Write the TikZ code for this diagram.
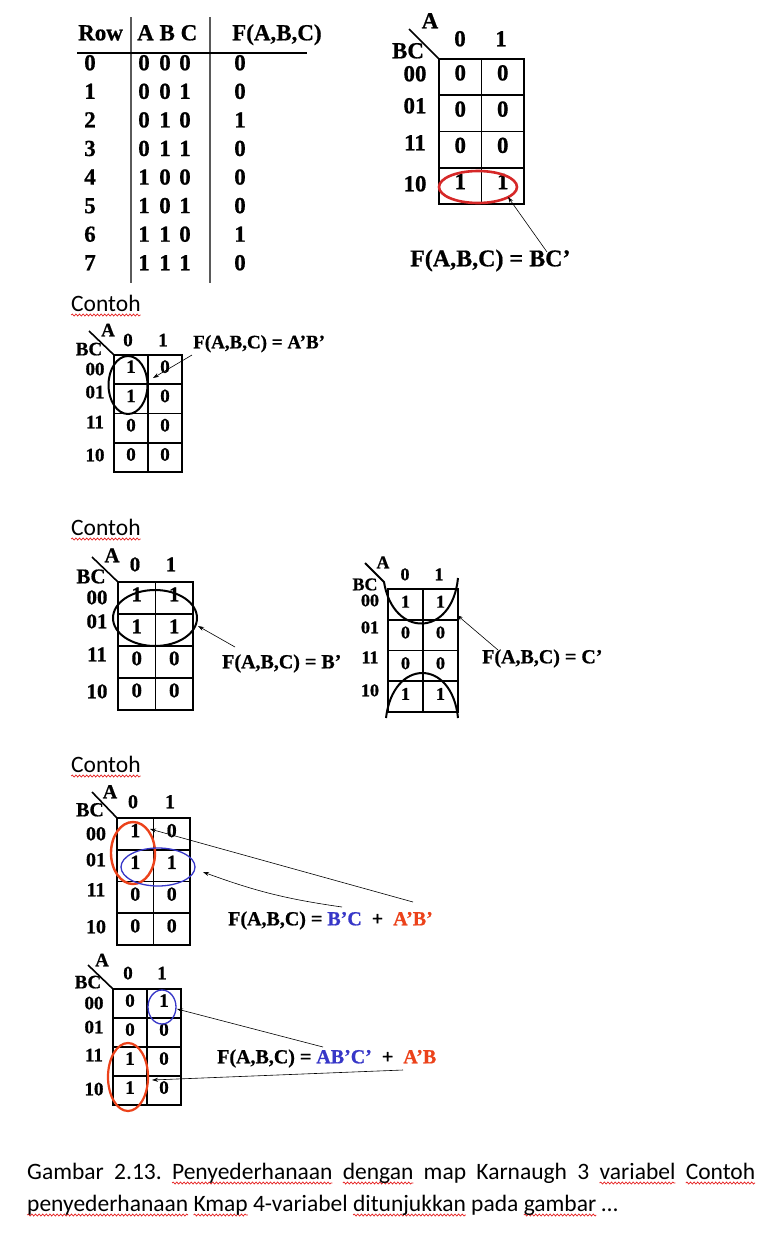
\documentclass[tikz,border=0pt]{standalone}
\usepackage{fontspec}
\setmainfont{Liberation Serif}[BoldFeatures={FakeBold=0.7}]
\newfontfamily\calib{Carlito}
\usetikzlibrary{arrows.meta,calc,decorations.pathmorphing}
\definecolor{kred}{RGB}{214,40,40}
\definecolor{ored}{RGB}{236,66,26}
\definecolor{kblue}{RGB}{55,55,200}
\definecolor{squig}{RGB}{230,30,30}
\definecolor{tline}{RGB}{90,90,90}
\newsavebox\errbox
\newlength\errw
\newcommand\spellerr[1]{\sbox\errbox{#1}\setlength\errw{\wd\errbox}\leavevmode\rlap{\tikz[baseline=0pt]{\path (0pt,0pt); \draw[overlay,squig,line width=0.7pt,decorate,decoration={snake,segment length=3.6pt,amplitude=1pt}] (0pt,-4pt) -- (\errw,-4pt);}}\usebox\errbox}
% K-map grid and values: #1 name, #2 left, #3 top, #4 cell width, #5 cell height, #6 values (row-major)
\newcommand\kmapgrid[6]{%
  \foreach \k in {0,...,4} \draw[kgrid] (#2,#3+\k*#5) -- (#2+2*#4,#3+\k*#5);
  \foreach \k in {0,1,2} \draw[kgrid] (#2+\k*#4,#3) -- (#2+\k*#4,#3+4*#5);
  \foreach \v [count=\i from 0] in {#6} {
    \pgfmathtruncatemacro\kr{\i/2}
    \pgfmathtruncatemacro\kc{mod(\i,2)}
    \node[txt] (#1v\kr\kc) at (#2+\kc*#4+0.5*#4, #3+\kr*#5+0.5*#5) {\v};
  }
}
\begin{document}
\frenchspacing
\begin{tikzpicture}[x=1pt,y=-1pt,
  txt/.style={inner sep=0pt, text height=0.66em, text depth=0pt},
  tt/.style={txt, font=\fontsize{23}{26}\selectfont\bfseries},
  kgrid/.style={line width=1.6pt, line cap=rect},
  diag/.style={line width=1.6pt},
  arr/.style={-{Stealth[length=6pt,width=4pt]}, line width=0.6pt},
  ring/.style={line width=2pt},
  contoh/.style={inner sep=0pt, anchor=base west, font=\calib\fontsize{23.5}{28}\selectfont},
  captxt/.style={inner sep=0pt, anchor=base west, font=\calib\fontsize{23.5}{28}\selectfont},
  f19/.style={font=\fontsize{19}{22}\selectfont\bfseries},
  f20/.style={font=\fontsize{20}{23}\selectfont\bfseries},
  f21/.style={font=\fontsize{21}{24}\selectfont\bfseries},
  f23/.style={font=\fontsize{23}{26}\selectfont\bfseries},
  f24/.style={font=\fontsize{24}{27}\selectfont\bfseries},
  f18/.style={font=\fontsize{18}{21}\selectfont\bfseries}]
\fill[white] (0,0) rectangle (775,1234);
\useasboundingbox (0,0) rectangle (775,1234);

% ---------------- truth table ----------------
\node[tt, anchor=west] (hrow) at (78,37) {Row};
\node[tt, anchor=west] (habc) at (137,37) {A B C};
\node[tt, anchor=west] (hf) at (232,37) {F(A,B,C)};
\draw[tline, line width=1.5pt] (131,17) -- (131,283);
\draw[tline, line width=1.5pt] (210,17) -- (210,283);
\draw[line width=1.3pt] (77,53) -- (307,53);
\foreach \r/\p/\q/\s/\f in {0/0/0/0/0,1/0/0/1/0,2/0/1/0/1,3/0/1/1/0,4/1/0/0/0,5/1/0/1/0,6/1/1/0/1,7/1/1/1/0} {
  \node[tt] (tr\r) at (90,67+\r*28.57) {\r};
  \node[tt] (ta\r) at (144,67+\r*28.57) {\p};
  \node[tt] (tb\r) at (165,67+\r*28.57) {\q};
  \node[tt] (tc\r) at (185,67+\r*28.57) {\s};
  \node[tt] (tf\r) at (240,67+\r*28.57) {\f};
}

% ---------------- K-map 1 ----------------
\begin{scope}[every node/.append style={f23}]
\kmapgrid{ka}{439}{59}{42.5}{36.25}{0,0,0,0,0,0,1,1}
\node[txt] (kah0) at (460,43) {0};
\node[txt] (kah1) at (501,43) {1};
\node[txt] (kaA) at (430,25) {A};
\node[txt] (kaBC) at (408,55) {BC};
\draw[diag] (409,29) -- (439,59);
\foreach \l/\yy in {00/78,01/110,11/147,10/188} \node[txt] (kar\l) at (415,\yy) {\l};
\end{scope}
\draw[kred, line width=2.6pt] (478,187) ellipse [x radius=39, y radius=16];
\node[txt, f24, anchor=west] (kaf) at (410,263) {F(A,B,C) = BC’};
\coordinate (kas) at (547,252);
\coordinate (kae) at (508,197);
\draw[arr] (kas) -- (kae);

% ---------------- K-map 2 ----------------
\node[contoh] (c1) at (71,311) {\spellerr{Contoh}};
\begin{scope}[every node/.append style={f19}]
\kmapgrid{kb}{114}{355}{34}{29.25}{1,0,1,0,0,0,0,0}
\node[txt] (kbh0) at (128,343) {0};
\node[txt] (kbh1) at (163,343) {1};
\node[txt] (kbA) at (108,333) {A};
\node[txt] (kbBC) at (89,352) {BC};
\draw[diag] (89,331) -- (114,355);
\foreach \l/\yy in {00/372,01/395,11/425,10/458} \node[txt] (kbr\l) at (95,\yy) {\l};
\end{scope}
\draw[ring] (128,385) ellipse [x radius=19.5, y radius=29];
\node[txt, f19, anchor=west] (kbf) at (193,345) {F(A,B,C) = A’B’};
\coordinate (kbs) at (192,355);
\coordinate (kbe) at (153,378);
\draw[arr] (kbs) -- (kbe);

% ---------------- K-map 3 ----------------
\node[contoh] (c2) at (71,535) {\spellerr{Contoh}};
\begin{scope}[every node/.append style={f21}]
\kmapgrid{kc}{118}{582}{37.5}{32}{1,1,1,1,0,0,0,0}
\node[txt] (kch0) at (135,568) {0};
\node[txt] (kch1) at (171,568) {1};
\node[txt] (kcA) at (112,559) {A};
\node[txt] (kcBC) at (91,580) {BC};
\draw[diag] (92,557) -- (118,582);
\foreach \l/\yy in {00/601,01/625,11/658,10/695} \node[txt] (kcr\l) at (97,\yy) {\l};
\end{scope}
\draw[ring] (155,618) ellipse [x radius=42, y radius=28];
\node[txt, f20, anchor=west] (kcf) at (222,665) {F(A,B,C) = B’};
\coordinate (kcs) at (235,647);
\coordinate (kce) at (198,626);
\draw[arr] (kcs) -- (kce);

% ---------------- K-map 4 ----------------
\begin{scope}[every node/.append style={f18}]
\kmapgrid{kd}{388}{589}{35}{30.75}{1,1,0,0,0,0,1,1}
\node[txt] (kdh0) at (405,577) {0};
\node[txt] (kdh1) at (439,577) {1};
\node[txt] (kdA) at (383,565) {A};
\node[txt] (kdBC) at (365,587) {BC};
\foreach \l/\yy in {00/603,01/630,11/660,10/693} \node[txt] (kdr\l) at (370,\yy) {\l};
\end{scope}
\draw[ring] (365,563) -- (384,582) .. controls (393,638) and (452,638) .. (458,578);
\draw[ring] (386,718) .. controls (393,658) and (452,658) .. (458,718);
\node[txt, f20, anchor=west] (kdf) at (482,660) {F(A,B,C) = C’};
\coordinate (kds) at (498,650);
\coordinate (kde) at (457,615);
\draw[arr] (kds) -- (kde);

% ---------------- K-map 5 ----------------
\node[contoh] (c3) at (71,772) {\spellerr{Contoh}};
\begin{scope}[every node/.append style={f20}]
\kmapgrid{ke}{117}{818}{36.5}{31.75}{1,0,1,1,0,0,0,0}
\node[txt] (keh0) at (133,805) {0};
\node[txt] (keh1) at (170,805) {1};
\node[txt] (keA) at (110,795) {A};
\node[txt] (keBC) at (90,813) {BC};
\draw[diag] (92,792) -- (117,818);
\foreach \l/\yy in {00/837,01/863,11/893,10/930} \node[txt] (ker\l) at (96,\yy) {\l};
\end{scope}
\draw[ored, line width=2.4pt] (133,853) ellipse [x radius=22, y radius=31];
\draw[kblue, line width=1.3pt] (158,867) ellipse [x radius=37, y radius=19];
\node[txt, f20, anchor=west] (kef) at (228,922) {F(A,B,C) = \textcolor{kblue}{B’C}\ \ +\ \ \textcolor{ored}{A’B’}};
\coordinate (kes1) at (413,902);
\coordinate (kee1) at (150,829);
\coordinate (kes2) at (342,907);
\coordinate (kee2) at (203,872);
\draw[arr] (kes1) -- (kee1);
\draw[arr] (kes2) to[bend left=6] (kee2);

% ---------------- K-map 6 ----------------
\begin{scope}[every node/.append style={f19}]
\kmapgrid{kf}{113}{989}{34}{29}{0,1,0,0,1,0,1,0}
\node[txt] (kfh0) at (128,976) {0};
\node[txt] (kfh1) at (162,976) {1};
\node[txt] (kfA) at (102,963) {A};
\node[txt] (kfBC) at (88,985) {BC};
\draw[diag] (88,965) -- (113,989);
\foreach \l/\yy in {00/1006,01/1030,11/1058,10/1092} \node[txt] (kfr\l) at (94,\yy) {\l};
\end{scope}
\draw[kblue, line width=1.3pt] (162,1007) ellipse [x radius=14, y radius=17];
\draw[ored, line width=2.2pt] (128,1077) ellipse [x radius=20, y radius=34];
\node[txt, f20, anchor=west] (kff) at (217,1060) {F(A,B,C) = \textcolor{kblue}{AB’C’}\ \ +\ \ \textcolor{ored}{A’B}};
\coordinate (kfs1) at (323,1047);
\coordinate (kfe1) at (177,1009);
\coordinate (kfs2) at (403,1070);
\coordinate (kfe2) at (152,1080);
\draw[arr] (kfs1) -- (kfe1);
\draw[arr] (kfs2) -- (kfe2);

% ---------------- caption ----------------
\node[captxt] (cap1) at (27,1179) {\makebox[728pt][s]{Gambar 2.13. \spellerr{Penyederhanaan} \spellerr{dengan} map Karnaugh 3 \spellerr{variabel} \spellerr{Contoh}}};
\node[captxt] (cap2) at (27,1211) {\spellerr{penyederhanaan} \spellerr{Kmap} 4-variabel \spellerr{ditunjukkan} pada \spellerr{gambar} …};
\end{tikzpicture}
\end{document}
